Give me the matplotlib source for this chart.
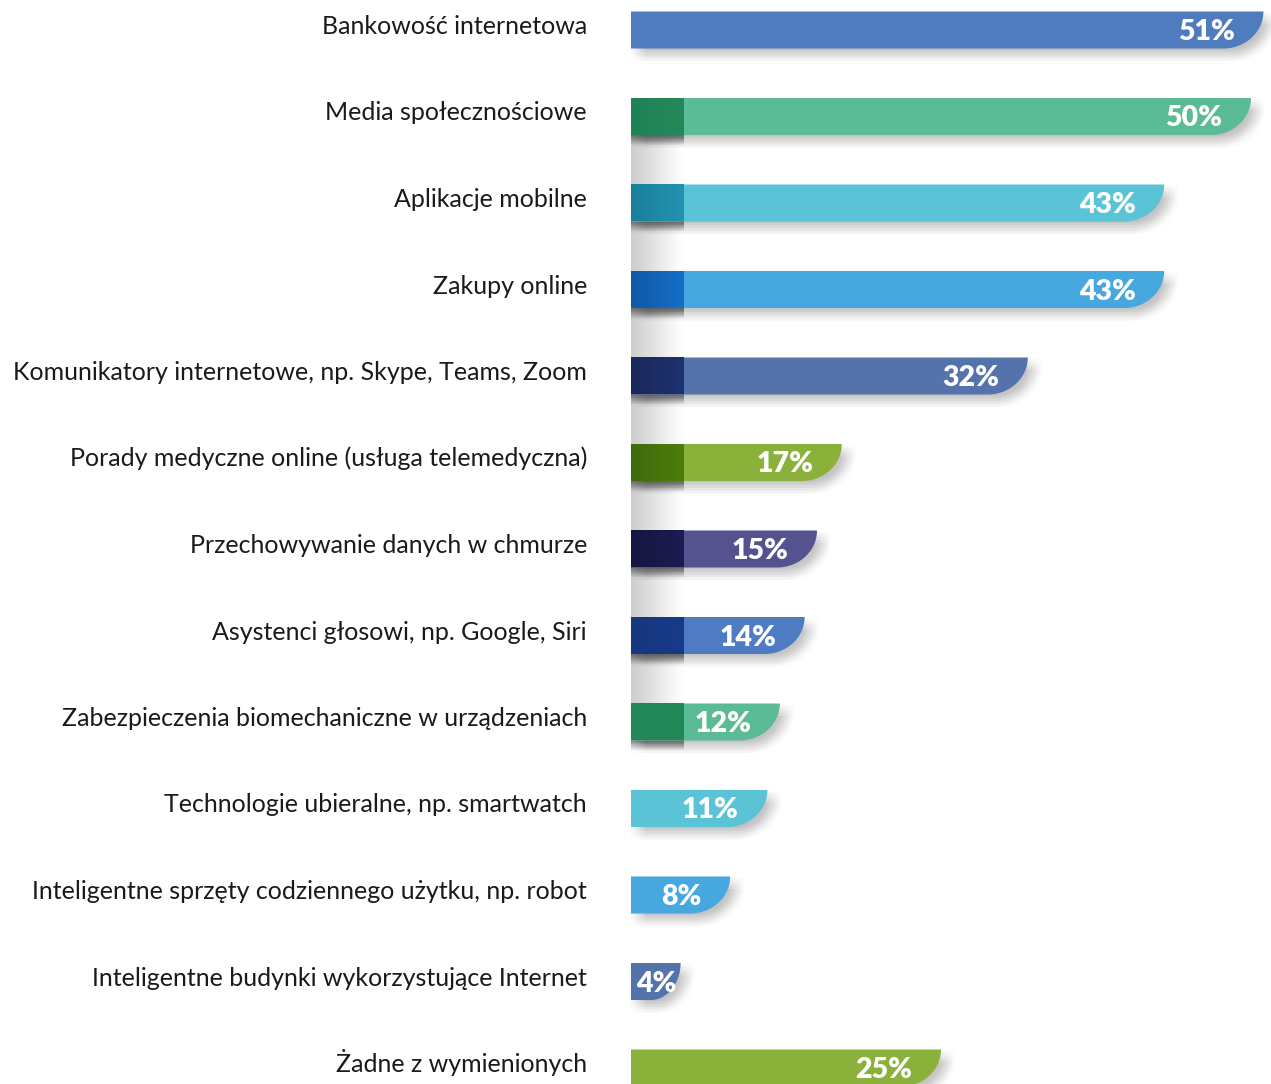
import numpy as np
import matplotlib.pyplot as plt
from matplotlib.colors import to_rgb
from matplotlib.path import Path
from matplotlib.patches import PathPatch
import matplotlib.patheffects as pe

labels = [
    "Bankowość internetowa",
    "Media społecznościowe",
    "Aplikacje mobilne",
    "Zakupy online",
    "Komunikatory internetowe, np. Skype, Teams, Zoom",
    "Porady medyczne online (usługa telemedyczna)",
    "Przechowywanie danych w chmurze",
    "Asystenci głosowi, np. Google, Siri",
    "Zabezpieczenia biomechaniczne w urządzeniach",
    "Technologie ubieralne, np. smartwatch",
    "Inteligentne sprzęty codziennego użytku, np. robot",
    "Inteligentne budynki wykorzystujące Internet",
    "Żadne z wymienionych",
]
values = [51, 50, 43, 43, 32, 17, 15, 14, 12, 11, 8, 4, 25]
bar_colors = [
    "#4f7bbf", "#5cbb97", "#5bc3d6", "#47a8df", "#5573ab", "#8ab23a", "#54538f",
    "#4f7bc3", "#5cbb97", "#5bc3d6", "#47a8df", "#5573ab", "#8ab23a",
]
# darker "folded" block at the start of some bars (left shade, right shade)
fold_colors = [
    None, ("#1f8257", "#23895a"), ("#1a7f9b", "#2393b0"), ("#1158a8", "#1470c8"),
    ("#1a285a", "#1f3270"), ("#3f6b0c", "#4d7d0a"), ("#15163f", "#1c1b52"),
    ("#17377e", "#173a8a"), ("#218858", "#218858"), None, None, None, None,
]

PX = 12.4        # pixels per percent
ROW = 86.5       # pixels per row
W, H = 1271, 1084
X0 = 631         # pixel where 0 % sits
Y0 = 30          # pixel centre of first row

fig = plt.figure(figsize=(W / 100, H / 100), dpi=100)
ax = fig.add_axes([0, 0, 1, 1])
ax.set_xlim(-X0 / PX, (W - X0) / PX)
ax.set_ylim((H - Y0) / ROW, -Y0 / ROW)
ax.set_axis_off()

bar_h = 37 / ROW
fold_w = 53 / PX
curve_rx = 40 / PX

# soft drop shadow built from stacked, offset copies
shadow = [
    pe.SimplePatchShadow(offset=(dx, -dy), shadow_rgbFace="k", alpha=0.006)
    for dx in (0, 2, 4, 6, 8, 10)
    for dy in (1, 3, 5, 7, 9)
] + [pe.Normal()]


def bar_path(v, yc):
    yt, yb = yc - bar_h / 2, yc + bar_h / 2
    rx = min(curve_rx, 0.6 * v)
    t = np.linspace(0, np.pi / 2, 30)
    verts = [(0, yt)]
    verts += list(zip(v - rx + rx * np.cos(t), yt + bar_h * np.sin(t)))
    verts += [(0, yb), (0, yt)]
    codes = [Path.MOVETO] + [Path.LINETO] * (len(verts) - 2) + [Path.CLOSEPOLY]
    return Path(verts, codes)


def gradient(extent, axis, a0, a1, n=64, zorder=1):
    a = np.linspace(a0, a1, n)
    img = np.zeros((n, 1, 4)) if axis == "y" else np.zeros((1, n, 4))
    img[..., 3] = a[:, None] if axis == "y" else a[None, :]
    ax.imshow(img, extent=extent, aspect="auto", interpolation="bilinear",
              zorder=zorder)


for i, (lab, v, col, fold) in enumerate(zip(labels, values, bar_colors, fold_colors)):
    yt, yb = i - bar_h / 2, i + bar_h / 2

    patch = PathPatch(bar_path(v, i), facecolor=col, edgecolor="none", zorder=3)
    patch.set_path_effects(shadow)
    ax.add_patch(patch)

    if fold is not None:
        img = np.linspace(np.array(to_rgb(fold[0])), np.array(to_rgb(fold[1])), 32)
        ax.imshow(img[None, :, :], extent=(0, fold_w, yb, yt), aspect="auto",
                  interpolation="bilinear", zorder=4)
        # crease under the folded block
        gradient((0, fold_w, yb + 11 / ROW, yb), "y", 0.45, 0.0, zorder=2)
        # grey wash in the gap below
        if i < 8:
            gap_end = (i + 1) - bar_h / 2
            gradient((0, fold_w, gap_end, yb), "x", 0.2, 0.0, zorder=1)

    ax.text(-44 / PX, i + 4 / ROW, lab, ha="right", va="baseline",
            fontsize=18, family="Lato", color="#1a1a1a")
    ax.text(max(v - 2.3, 3.7), i + 10 / ROW, f"{v}%", ha="right", va="baseline",
            fontsize=20.5, family="Lato", fontweight="heavy", color="white",
            zorder=6)

fig.savefig("out.png", dpi=100, facecolor="white")
